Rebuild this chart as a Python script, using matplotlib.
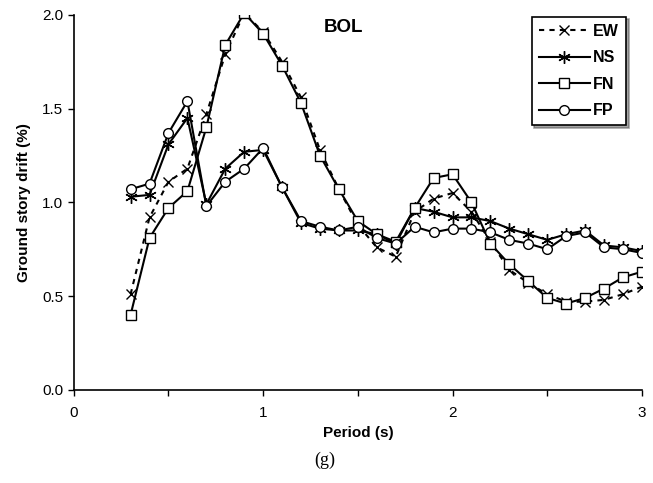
import matplotlib
matplotlib.use("Agg")
import matplotlib.pyplot as plt
import numpy as np

plt.rcParams['font.family'] = ['Liberation Sans', 'DejaVu Sans']

period = [0.3, 0.4, 0.5, 0.6, 0.7, 0.8, 0.9, 1.0, 1.1, 1.2, 1.3, 1.4, 1.5, 1.6,
          1.7, 1.8, 1.9, 2.0, 2.1, 2.2, 2.3, 2.4, 2.5, 2.6, 2.7, 2.8, 2.9, 3.0]

ew = [0.51, 0.92, 1.11, 1.18, 1.47, 1.79, 2.01, 1.91, 1.75, 1.56, 1.28, 1.07, 0.88, 0.76,
      0.71, 0.95, 1.02, 1.05, 0.95, 0.79, 0.64, 0.57, 0.51, 0.47, 0.47, 0.48, 0.51, 0.55]
ns = [1.03, 1.04, 1.31, 1.45, 0.99, 1.18, 1.27, 1.28, 1.08, 0.89, 0.86, 0.85, 0.85, 0.83,
      0.78, 0.97, 0.95, 0.92, 0.92, 0.90, 0.86, 0.83, 0.80, 0.83, 0.85, 0.77, 0.76, 0.74]
fn = [0.40, 0.81, 0.97, 1.06, 1.40, 1.84, 2.01, 1.90, 1.73, 1.53, 1.25, 1.07, 0.90, 0.83,
      0.79, 0.97, 1.13, 1.15, 1.00, 0.78, 0.67, 0.58, 0.49, 0.46, 0.49, 0.54, 0.60, 0.63]
fp = [1.07, 1.10, 1.37, 1.54, 0.98, 1.11, 1.18, 1.29, 1.08, 0.90, 0.87, 0.85, 0.87, 0.81,
      0.78, 0.87, 0.84, 0.86, 0.86, 0.84, 0.80, 0.78, 0.75, 0.82, 0.84, 0.76, 0.75, 0.73]

fig = plt.figure(figsize=(6.53, 4.83), dpi=100)
ax = fig.add_axes([0.113, 0.193, 0.870, 0.776])

lw = 1.5
ax.plot(period, ew, color='black', lw=lw, ls=(0, (2.5, 2.5)), marker='x', ms=7,
        mew=1.0, label='EW')
ax.plot(period, ns, color='black', lw=lw, marker=(6, 2, 0), ms=9, mew=1.0, label='NS')
ax.plot(period, fn, color='black', lw=lw, marker='s', ms=7, mfc='white', mew=1.0, label='FN')
ax.plot(period, fp, color='black', lw=lw, marker='o', ms=7, mfc='white', mew=1.0, label='FP')

ax.set_xlim(0, 3)
ax.set_ylim(0, 2.0)
ax.set_xticks([0, 0.5, 1, 1.5, 2, 2.5, 3])
ax.set_xticklabels(['0', '', '1', '', '2', '', '3'])
ax.set_yticks([0, 0.5, 1.0, 1.5, 2.0])
ax.set_yticklabels(['0.0', '0.5', '1.0', '1.5', '2.0'])
ax.tick_params(labelsize=11, length=4, width=1, direction='out')
ax.tick_params(axis='x', pad=8)
ax.spines['top'].set_visible(False)
ax.spines['right'].set_visible(False)
ax.spines['left'].set_linewidth(1.2)
ax.spines['bottom'].set_linewidth(1.2)

ax.set_xlabel('Period (s)', fontsize=11, fontweight='bold', labelpad=4)
ax.set_ylabel('Ground story drift (%)', fontsize=11, fontweight='bold', labelpad=8)
ax.text(0.474, 0.99, 'BOL', transform=ax.transAxes, fontsize=13.5, fontweight='bold',
        ha='center', va='top')

leg = ax.legend(loc='upper right', bbox_to_anchor=(0.975, 1.0), fancybox=False,
                shadow=True, frameon=True, edgecolor='black', handlelength=3.2,
                handletextpad=0.2, borderpad=0.45, labelspacing=0.72, borderaxespad=0.1,
                prop={'weight': 'bold', 'size': 11.5})
leg.get_frame().set_linewidth(1.2)

fig.text(0.497, 0.047, '(g)', fontsize=13, family='Liberation Serif', ha='center', va='center')

fig.savefig('out.png', dpi=100)
